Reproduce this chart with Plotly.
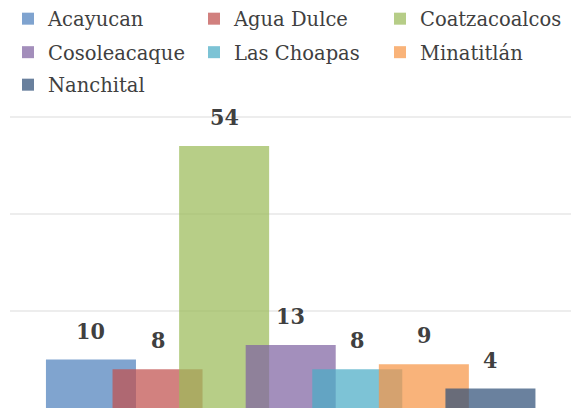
import plotly.graph_objects as go

categories = ["Acayucan", "Agua Dulce", "Coatzacoalcos", "Cosoleacaque",
              "Las Choapas", "Minatitlán", "Nanchital"]
values = [10, 8, 54, 13, 8, 9, 4]
colors = ["#4F81BD", "#C0504D", "#9BBB59", "#8064A2", "#4BACC6", "#F79646", "#305078"]

W, H = 571, 409
# legend placement (pixels): column left edges and row centres
col_x = [8, 194, 380]
row_y = [19, 52.5, 85]

fig = go.Figure()
legend_layout = {}
for i, (cat, v, c) in enumerate(zip(categories, values, colors)):
    lname = "legend" if i == 0 else f"legend{i + 1}"
    fig.add_trace(go.Bar(
        x=[i], y=[v], name=cat, width=1.352,
        marker=dict(color=c, line=dict(width=0)),
        opacity=0.72, legend=lname, hoverinfo="skip",
    ))
    fig.add_annotation(
        x=i, y=v, text=str(v), showarrow=False, yanchor="bottom", yshift=14,
        font=dict(family="DejaVu Serif Condensed, DejaVu Serif", size=23,
                  color="#404040", weight="bold"),
    )
    legend_layout[lname] = dict(
        orientation="h", xref="container", yref="container",
        xanchor="left", yanchor="middle",
        x=col_x[i % 3] / W, y=1 - row_y[i // 3] / H,
        font=dict(family="DejaVu Serif", size=19.5, color="#404040"),
        bgcolor="rgba(0,0,0,0)", borderwidth=0,
        itemclick=False, itemdoubleclick=False,
    )

fig.update_layout(
    width=W, height=H,
    margin=dict(l=10, r=0, t=100, b=1, autoexpand=False),
    plot_bgcolor="white", paper_bgcolor="white",
    barmode="overlay",
    showlegend=True,
    xaxis=dict(range=[-1.216, 7.21], showgrid=False, zeroline=False,
               showticklabels=False, showline=False, ticks=""),
    yaxis=dict(range=[0, 63.5], dtick=20, tick0=0, showgrid=True,
               gridcolor="#EDEDED", gridwidth=1.5, zeroline=False,
               showticklabels=False, showline=False, ticks=""),
    **legend_layout,
)

fig.write_html("out.html",
               config={"displayModeBar": False},
               post_script="document.body.style.margin='0';"
                           "document.body.style.overflow='hidden';")
